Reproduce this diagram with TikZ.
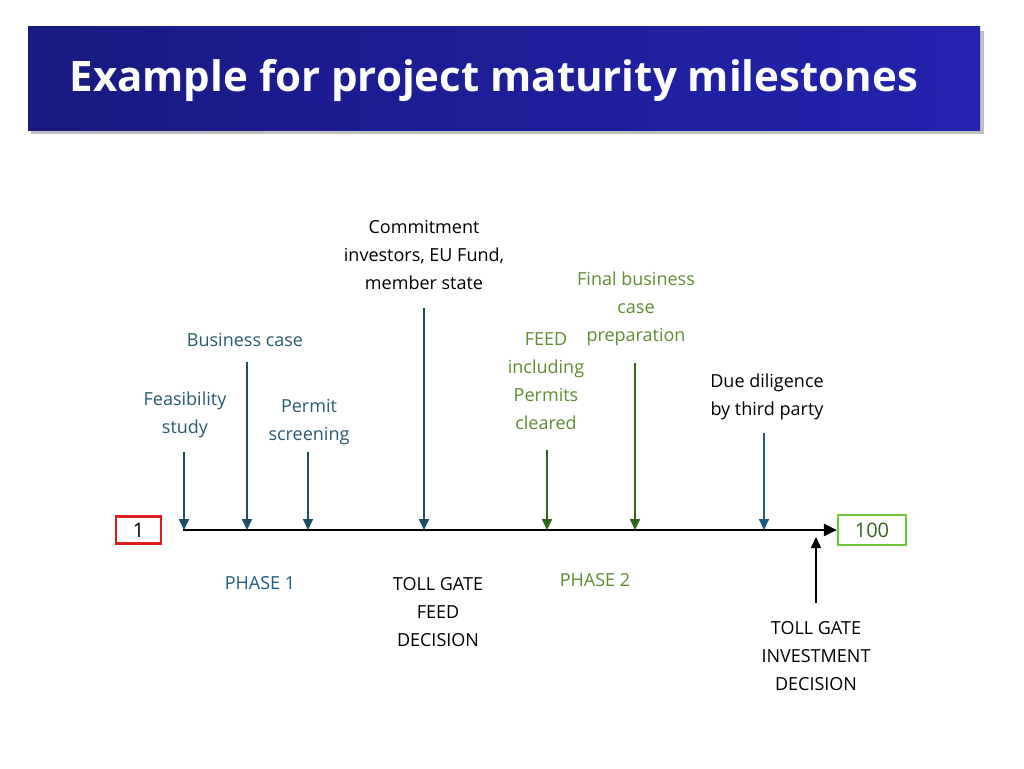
\documentclass[tikz,border=0pt]{standalone}
\usepackage{fontspec}
\setmainfont{Open Sans}
\usetikzlibrary{arrows.meta}
\definecolor{teal1}{RGB}{31,78,100}
\definecolor{tealtxt}{RGB}{40,90,110}
\definecolor{grn1}{RGB}{50,100,30}
\definecolor{grntxt}{RGB}{95,140,50}
\definecolor{blu1}{RGB}{30,90,130}
\definecolor{boxgrn}{RGB}{110,200,60}
\tikzset{
  lbl/.style={align=center,font=\fontsize{18}{28}\selectfont,inner sep=0pt},
  milestone/.style={-{Triangle[width=10pt,length=11pt]},line width=1.8pt},
  endbox/.style={draw,line width=2.2pt,minimum width=45pt,minimum height=27pt,inner sep=0pt,font=\fontsize{20}{22}\selectfont}
}
\begin{document}
\begin{tikzpicture}[x=1pt,y=1pt,yscale=-1]
\useasboundingbox (0,0) rectangle (1024,768);
% title bar
\fill[black!25] (31,31) rectangle (984,134);
\shade[left color={rgb,255:red,25;green,25;blue,130},right color={rgb,255:red,35;green,35;blue,175}] (28,27) rectangle (980,130);
\node[anchor=west,text=white,font=\fontsize{42}{46}\selectfont\bfseries] (title) at (66,80) {Example for project maturity milestones};

% end boxes and axis
\node[endbox,draw={rgb,255:red,220;green,30;blue,30}] (start) at (138.5,530) {1};
\node[endbox,draw=boxgrn,minimum width=68pt,minimum height=30pt,text=grn1] (end) at (872,530) {100};
\coordinate (a0) at (183,530);
\draw[line width=2.4pt,-{Triangle[width=12pt,length=13pt]}] (a0) -- (end.west);

% milestones
\node[lbl,text=tealtxt] (feas) at (185,415) {Feasibility\\study};
\node[lbl,text=tealtxt] (bus) at (245,340) {Business case};
\node[lbl,text=tealtxt] (perm) at (309,422) {Permit\\screening};
\node[lbl] (comm) at (424,255) {Commitment\\investors, EU Fund,\\member state};
\node[lbl,text=grntxt] (feed) at (546,381) {FEED\\including\\Permits\\cleared};
\node[lbl,text=grntxt] (fin) at (636,309) {Final business\\case\\preparation};
\node[lbl] (due) at (767,397) {Due diligence\\by third party};

\coordinate (t1) at (184,452); \coordinate (b1) at (184,530);
\coordinate (t2) at (247,362); \coordinate (b2) at (247,530);
\coordinate (t3) at (308,452); \coordinate (b3) at (308,530);
\coordinate (t4) at (424,308); \coordinate (b4) at (424,530);
\coordinate (t5) at (547,450); \coordinate (b5) at (547,530);
\coordinate (t6) at (635,363); \coordinate (b6) at (635,530);
\coordinate (t7) at (764,433); \coordinate (b7) at (764,530);
\draw[milestone,teal1] (t1) -- (b1);
\draw[milestone,teal1] (t2) -- (b2);
\draw[milestone,teal1] (t3) -- (b3);
\draw[milestone,teal1] (t4) -- (b4);
\draw[milestone,grn1] (t5) -- (b5);
\draw[milestone,grn1] (t6) -- (b6);
\draw[milestone,blu1] (t7) -- (b7);

% phases and gates
\node[lbl,text=blu1] (ph1) at (260,583) {PHASE 1};
\node[lbl] (gate1) at (438,612) {TOLL GATE\\FEED\\DECISION};
\node[lbl,text=grntxt] (ph2) at (595,580) {PHASE 2};
\node[lbl] (gate2) at (816,656) {TOLL GATE\\INVESTMENT\\DECISION};
\coordinate (g2) at (816,603); \coordinate (g2t) at (816,537);
\draw[milestone,black] (g2) -- (g2t);
\end{tikzpicture}
\end{document}
